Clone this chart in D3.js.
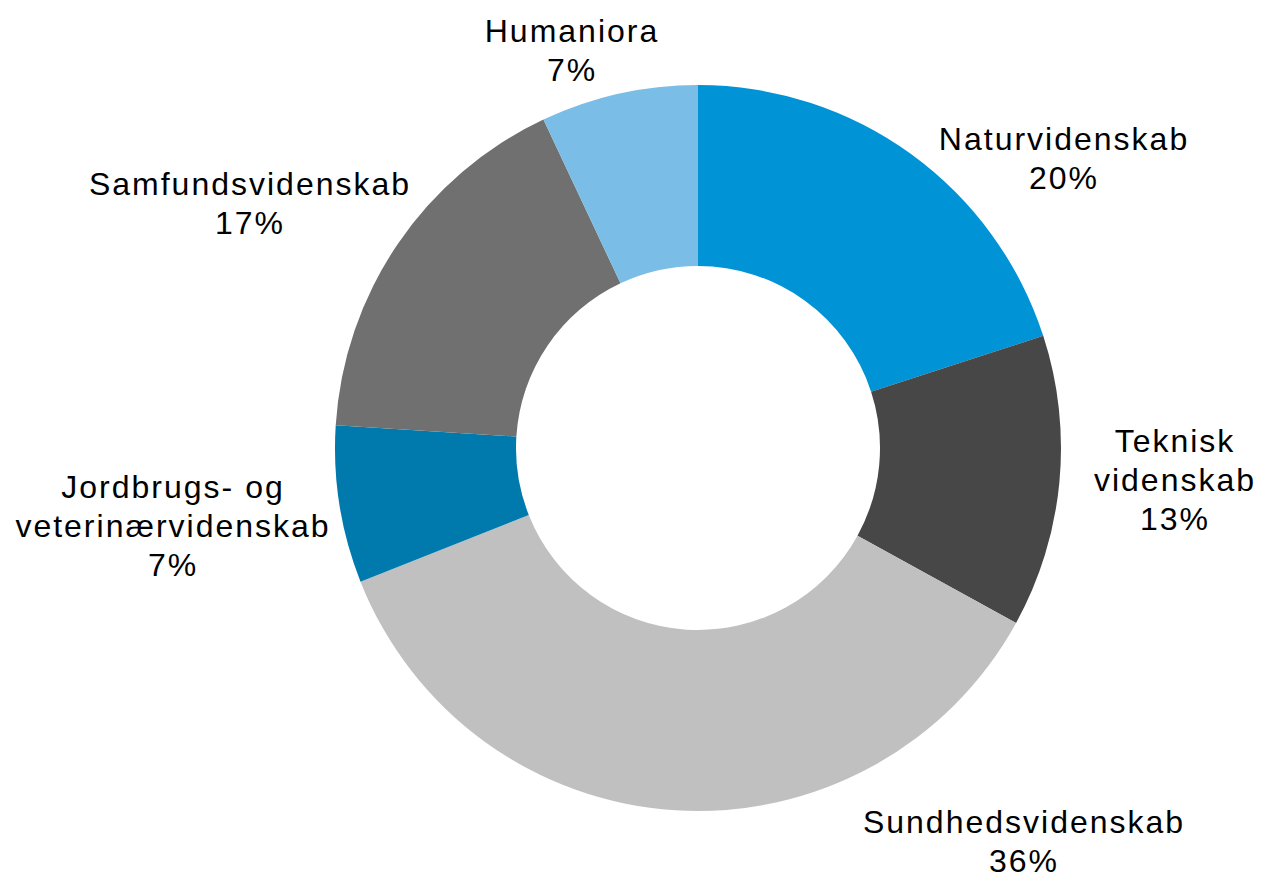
<!DOCTYPE html>
<html>
<head>
<meta charset="utf-8">
<script src="https://d3js.org/d3.v7.min.js"></script>
<style>
  html, body { margin: 0; padding: 0; background: #fff; }
  svg { display: block; }
  .lbl { font-family: "Liberation Sans", Arial, sans-serif; font-size: 32px; letter-spacing: 2px; fill: #000; }
</style>
</head>
<body>
<svg class="chart"></svg>
<script>
// DATA
var categories = ["Naturvidenskab", "Teknisk videnskab", "Sundhedsvidenskab",
                  "Jordbrugs- og veterinærvidenskab", "Samfundsvidenskab", "Humaniora"];
var shares = [20, 13, 36, 7, 17, 7];
// how each label breaks into lines (as in the original)
var labelLines = [
  ["Naturvidenskab"],
  ["Teknisk", "videnskab"],
  ["Sundhedsvidenskab"],
  ["Jordbrugs- og", "veterinærvidenskab"],
  ["Samfundsvidenskab"],
  ["Humaniora"]
];
var colors = ["#0093d6", "#474747", "#c0c0c0", "#0079ad", "#707070", "#7abde6"];

// LAYOUT
var gwidth = 1261, gheight = 879;
var cx = 698, cy = 448;
var outerR = 363, innerR = 182;
var lineH = 39;
// label block positions relative to the centre (x = text centre, y = first baseline)
var labelPos = [
  [366, -298],
  [477, 4],
  [326, 385],
  [-525, 50],
  [-448, -253],
  [-126, -406]
];

var svg = d3.select(".chart")
  .attr("width", gwidth)
  .attr("height", gheight);

var g = svg.append("g")
  .attr("transform", "translate(" + cx + "," + cy + ")");

var pie = d3.pie()
  .sort(null)
  .value(function(d) { return d; });

var arc = d3.arc()
  .innerRadius(innerR)
  .outerRadius(outerR);

var arcs = pie(shares);

g.selectAll("path.slice")
  .data(arcs)
  .enter()
  .append("path")
  .attr("class", "slice")
  .attr("d", arc)
  .attr("fill", function(d, i) { return colors[i]; });

var labels = g.selectAll("text.lbl")
  .data(arcs)
  .enter()
  .append("text")
  .attr("class", "lbl")
  .attr("text-anchor", "middle")
  .attr("transform", function(d, i) {
    return "translate(" + labelPos[i][0] + "," + labelPos[i][1] + ")";
  });

labels.each(function(d, i) {
  var t = d3.select(this);
  var lines = labelLines[i].concat([Math.round(d.value) + "%"]);
  lines.forEach(function(s, j) {
    t.append("tspan")
      .attr("x", 0)
      .attr("y", j * lineH)
      .text(s);
  });
});
</script>
</body>
</html>
